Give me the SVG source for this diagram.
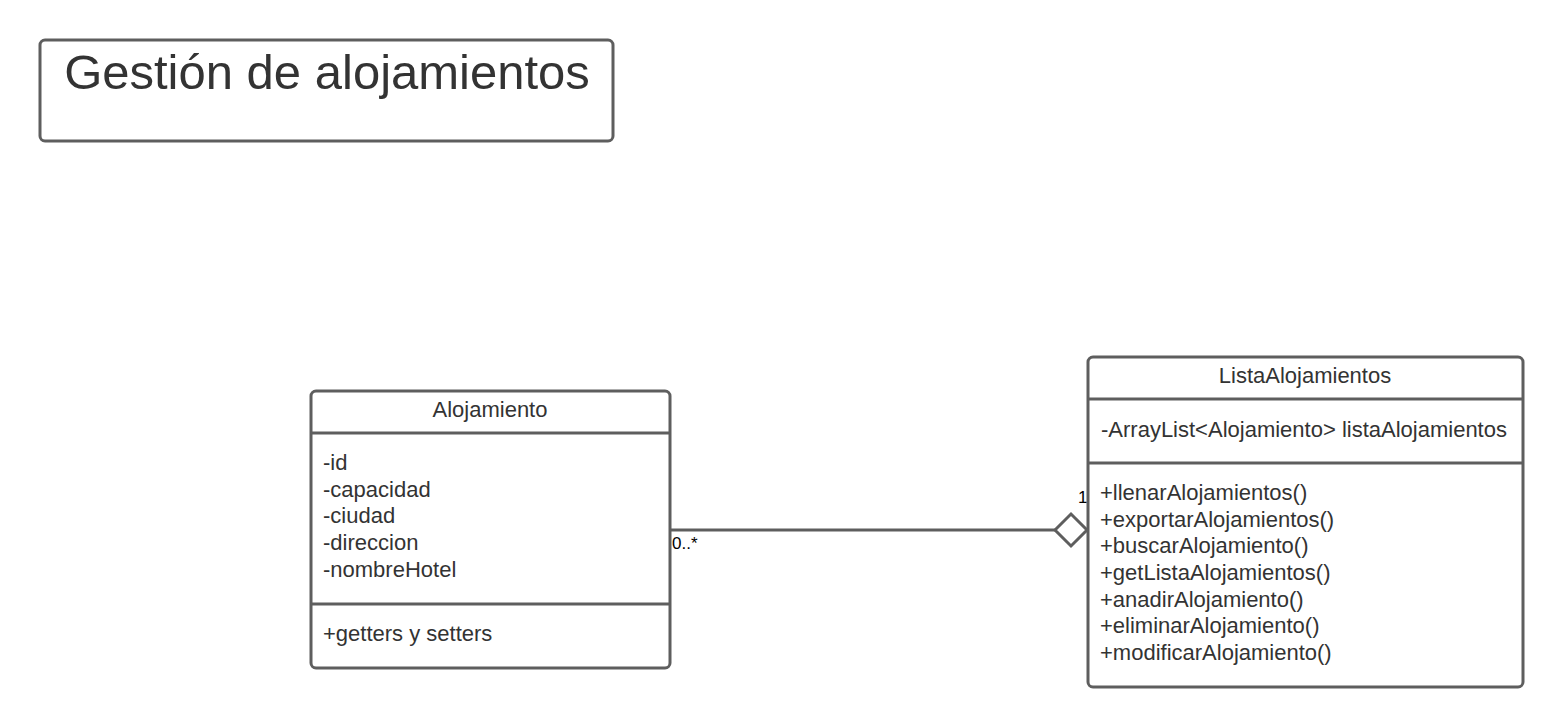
<svg xmlns="http://www.w3.org/2000/svg" width="1564" height="728" viewBox="0 0 1564 728">
<style>
.box{fill:#fff;stroke:#5e5e5e;stroke-width:3}
.div{stroke:#5e5e5e;stroke-width:3}
text{font-family:"Liberation Sans",Arial,sans-serif;fill:#333}
.t{font-size:22px}
.c{text-anchor:middle}
.m{font-size:17px;fill:#000}
</style>
<rect width="1564" height="728" fill="#fff"/>
<g id="title">
<rect class="box" x="40" y="40" width="573" height="101" rx="5"/>
<text x="327" y="89" class="c" style="font-size:49px">Gestión de alojamientos</text>
</g>
<g id="connectors">
<line x1="671" y1="530" x2="1055" y2="530" class="div"/>
<polygon points="1055,530 1071,514 1087,530 1071,546" fill="#fff" stroke="#5e5e5e" stroke-width="3"/>
<text x="672" y="549" class="m">0..*</text>
<text x="1078" y="503" class="m">1</text>
</g>
<g id="alojamiento">
<rect class="box" x="311" y="391" width="359" height="277" rx="5"/>
<line class="div" x1="311" y1="433" x2="670" y2="433"/>
<line class="div" x1="311" y1="604" x2="670" y2="604"/>
<text x="490" y="417" class="t c">Alojamiento</text>
<text x="323" y="470" class="t">-id</text>
<text x="323" y="497" class="t">-capacidad</text>
<text x="323" y="523" class="t">-ciudad</text>
<text x="323" y="550" class="t">-direccion</text>
<text x="323" y="577" class="t">-nombreHotel</text>
<text x="323" y="641" class="t">+getters y setters</text>
</g>
<g id="listaAlojamientos">
<rect class="box" x="1088" y="357" width="435" height="330" rx="5"/>
<line class="div" x1="1088" y1="399" x2="1523" y2="399"/>
<line class="div" x1="1088" y1="463" x2="1523" y2="463"/>
<text x="1305" y="383" class="t c">ListaAlojamientos</text>
<text x="1101" y="437" class="t">-ArrayList&lt;Alojamiento&gt; listaAlojamientos</text>
<text x="1100" y="500" class="t">+llenarAlojamientos()</text>
<text x="1100" y="527" class="t">+exportarAlojamientos()</text>
<text x="1100" y="553" class="t">+buscarAlojamiento()</text>
<text x="1100" y="580" class="t">+getListaAlojamientos()</text>
<text x="1100" y="607" class="t">+anadirAlojamiento()</text>
<text x="1100" y="633" class="t">+eliminarAlojamiento()</text>
<text x="1100" y="660" class="t">+modificarAlojamiento()</text>
</g>
</svg>
